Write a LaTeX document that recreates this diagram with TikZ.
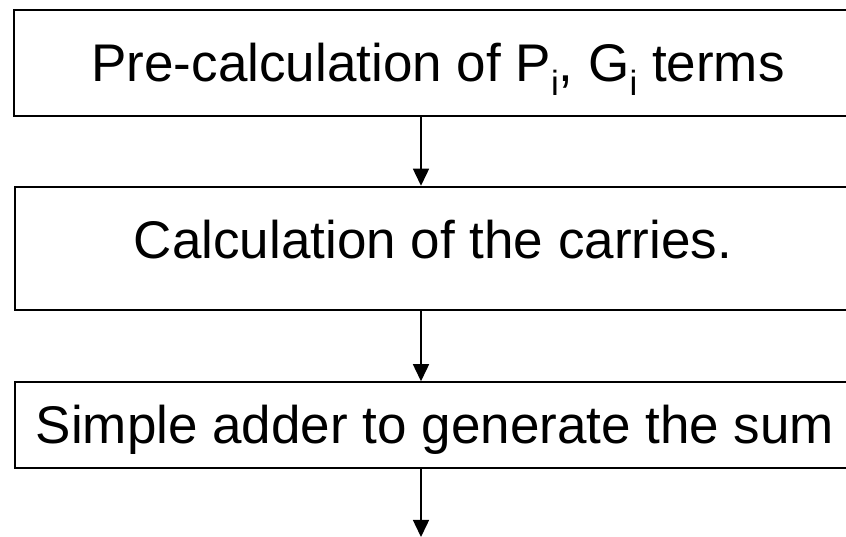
\documentclass[tikz,border=0pt]{standalone}
\usepackage{fontspec}
\setmainfont{Liberation Sans}
\usetikzlibrary{arrows.meta}
\newcommand{\subi}{\raisebox{-14pt}{\fontsize{35}{40}\selectfont i}}
\begin{document}
\begin{tikzpicture}[x=1pt,y=1pt,
  stagebox/.style={draw, rectangle, inner sep=0pt, text height=38pt, text depth=0pt,
    font=\fontsize{53}{60}\selectfont},
  flow/.style={line width=1.5pt, -{Triangle[width=16pt,length=17pt]}}]
\useasboundingbox (0,0) rectangle (846,537);
\clip (0,0) rectangle (846,537);
\node[stagebox, line width=1.5pt, minimum width=848pt, minimum height=106pt] (b1) at (438,474)
  {Pre-calculation of P\subi, G\subi{} terms};
\node[stagebox, line width=2.5pt, minimum width=836pt, minimum height=123pt, text depth=18pt] (b2) at (433,288.5)
  {Calculation of the carries.};
\node[stagebox, line width=1.5pt, minimum width=840pt, minimum height=86pt] (b3) at (435,112)
  {Simple adder to generate the sum};
\coordinate (ax) at (421,0);
\draw[flow] (b1.south -| ax) -- (b2.north -| ax);
\draw[flow] (b2.south -| ax) -- (b3.north -| ax);
\draw[flow] (b3.south -| ax) -- (ax);
\end{tikzpicture}
\end{document}
